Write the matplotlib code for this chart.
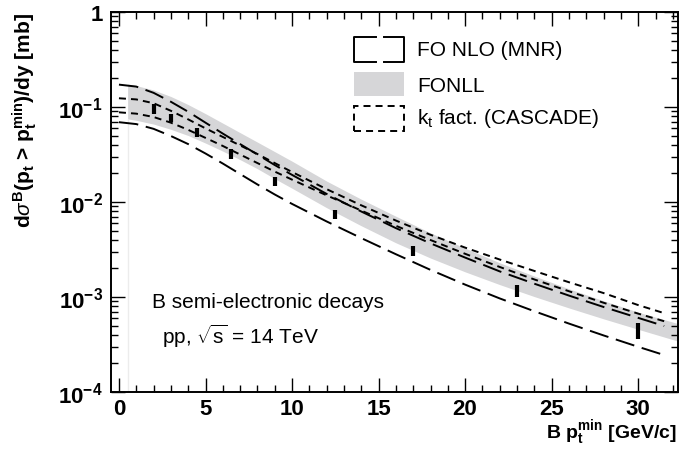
import numpy as np
import matplotlib.pyplot as plt
from matplotlib.lines import Line2D
from matplotlib.patches import Rectangle
from matplotlib.ticker import MultipleLocator, LogLocator, NullFormatter

plt.rcParams['font.family'] = ['Liberation Sans', 'DejaVu Sans']
plt.rcParams['mathtext.fontset'] = 'custom'
plt.rcParams['mathtext.rm'] = 'Liberation Sans'
plt.rcParams['mathtext.bf'] = 'Liberation Sans:bold'
plt.rcParams['mathtext.it'] = 'Liberation Sans:italic'

# pt_min grid for the theory curves [GeV/c]
pt = [0, 1, 2, 3, 4, 5, 6, 7, 8, 9, 10, 12, 14, 16, 18, 20, 22, 24, 26, 28, 30, 31.5]

# FO NLO (MNR) upper / lower bounds [mb]
fo_hi = [0.172, 0.164, 0.141, 0.1135, 0.0891, 0.0684, 0.0525, 0.0407, 0.0316, 0.0245,
         0.0193, 0.01216, 0.00794, 0.00531, 0.00367, 0.0026, 0.00186, 0.00138,
         0.001035, 0.000785, 0.000603, 0.000495]
fo_lo = [0.0692, 0.0661, 0.0589, 0.0495, 0.0407, 0.0324, 0.0254, 0.0197, 0.0153, 0.0120,
         0.00955, 0.00624, 0.00417, 0.00282, 0.00193, 0.00135, 0.000966, 0.000708,
         0.000525, 0.000394, 0.000299, 0.000245]

# kt factorisation (CASCADE) upper / lower
kt_hi = [0.1236, 0.1202, 0.1096, 0.0912, 0.0741, 0.0596, 0.0484, 0.0394, 0.0320, 0.0257,
         0.0207, 0.01365, 0.00923, 0.00638, 0.00452, 0.00331, 0.00248, 0.00188,
         0.00143, 0.0011, 0.000822, 0.000676]
kt_lo = [0.0879, 0.0851, 0.0785, 0.0684, 0.0575, 0.0473, 0.0389, 0.0316, 0.0257, 0.0209,
         0.0172, 0.01175, 0.00813, 0.00562, 0.00398, 0.00285, 0.00207, 0.00153,
         0.00115, 0.00087, 0.000668, 0.000556]

# FONLL band
band_x = [0.5, 1, 2, 3, 4, 5, 6, 7, 8, 9, 10, 12, 14, 16, 18, 20, 22, 24, 26, 28, 30, 32.3]
band_hi = [0.174, 0.168, 0.151, 0.129, 0.106, 0.0851, 0.0676, 0.0537, 0.0427, 0.0339,
           0.0269, 0.0166, 0.0107, 0.00708, 0.00473, 0.00327, 0.00229, 0.00166,
           0.00122, 0.000912, 0.000692, 0.000525]
band_lo = [0.075, 0.0724, 0.0661, 0.0582, 0.0501, 0.0417, 0.0343, 0.0279, 0.0224, 0.0176,
           0.01396, 0.00871, 0.00562, 0.00372, 0.00257, 0.00184, 0.00135, 0.00101,
           0.000767, 0.000589, 0.000457, 0.000343]

# expected measurement points (vertical error bars)
meas_x = [2, 3, 4.5, 6.5, 9, 12.5, 17, 23, 30]
meas_lo = [0.084, 0.069, 0.048, 0.0284, 0.0146, 0.0066, 0.00268, 0.00099, 0.00036]
meas_hi = [0.107, 0.084, 0.0597, 0.0361, 0.0182, 0.0083, 0.00347, 0.00134, 0.00053]

xticks = [0, 5, 10, 15, 20, 25, 30]
yticks = [1e-4, 1e-3, 1e-2, 1e-1, 1]
ytick_labels = [r'$\mathbf{10^{-4}}$', r'$\mathbf{10^{-3}}$', r'$\mathbf{10^{-2}}$',
                r'$\mathbf{10^{-1}}$', '1']

W, H = 698, 452


def fx(px):
    return px / W


def fy(py):
    return 1 - py / H


fig = plt.figure(figsize=(W / 100, H / 100), dpi=100)
ax = fig.add_axes([fx(111), fy(393), fx(678) - fx(111), fy(13) - fy(393)])

ax.fill_between(band_x, band_lo, band_hi, color='#d6d6d8', lw=0)
ax.vlines(band_x[0], 1e-4, band_lo[0], color='#ececec', lw=1)

long_dash = (0, (10, 4))
short_dash = (0, (3.6, 2.6))
ax.plot(pt, fo_hi, color='black', lw=1.4, ls=long_dash)
ax.plot(pt, fo_lo, color='black', lw=1.4, ls=long_dash)
ax.plot(pt, kt_hi, color='black', lw=1.4, ls=short_dash)
ax.plot(pt, kt_lo, color='black', lw=1.4, ls=short_dash)

ax.vlines(meas_x, meas_lo, meas_hi, color='black', lw=3)

ax.set_yscale('log')
ax.set_ylim(1e-4, 1)
ax.set_xlim(-0.46, 32.3)

ax.xaxis.set_major_locator(MultipleLocator(5))
ax.xaxis.set_minor_locator(MultipleLocator(1))
ax.yaxis.set_minor_locator(LogLocator(base=10, subs=np.arange(2, 10)))
ax.yaxis.set_minor_formatter(NullFormatter())
ax.set_xticks(xticks)
ax.set_xticklabels([str(t) for t in xticks], fontsize=16, fontweight='bold')
ax.set_yticks(yticks)
ax.set_yticklabels(ytick_labels, fontsize=16, fontweight='bold')

ax.tick_params(which='both', direction='in', top=True, right=True, width=1)
ax.tick_params(which='major', length=10)
ax.tick_params(which='minor', length=5)
ax.tick_params(axis='x', pad=4)
ax.tick_params(axis='y', pad=6)
for s in ax.spines.values():
    s.set_linewidth(1.4)

# axis titles
fig.text(fx(25), fy(13),
         r'd$\sigma^{\mathbf{B}}$(p$_{\mathbf{t}}$ > p$_{\mathbf{t}}^{\mathbf{min}}$)/dy [mb]',
         rotation=90, ha='center', va='top', fontsize=15, fontweight='bold')
fig.text(fx(677), fy(438), r'B p$_{\mathbf{t}}^{\mathbf{min}}$ [GeV/c]',
         ha='right', va='baseline', fontsize=14, fontweight='bold')

# legend
x0, x1 = 354, 404
lw_leg = 1.4
for (a, b) in [(x0 + 22, x0), (x1 - 20, x1)]:
    fig.add_artist(Line2D([fx(a), fx(b), fx(b), fx(a)], [fy(38), fy(38), fy(63), fy(63)],
                          color='black', lw=lw_leg, transform=fig.transFigure))
fig.add_artist(Rectangle((fx(x0), fy(97)), fx(x1) - fx(x0), fy(73) - fy(97),
                         transform=fig.transFigure, color='#d6d6d8', lw=0))
fig.add_artist(Rectangle((fx(x0), fy(132)), fx(x1) - fx(x0), fy(107) - fy(132),
                         transform=fig.transFigure, fill=False, lw=lw_leg,
                         ls=(0, (3.6, 2.6)), edgecolor='black'))
fig.text(fx(417), fy(50), 'FO NLO (MNR)', fontsize=15, va='center')
fig.text(fx(417), fy(86), 'FONLL', fontsize=15, va='center')
fig.text(fx(417), fy(118), r'k$_{\mathrm{t}}$ fact. (CASCADE)', fontsize=15, va='center')

# annotation
fig.text(fx(152), fy(302), 'B semi-electronic decays', fontsize=15, va='center')
fig.text(fx(162), fy(336), r'pp, $\sqrt{\mathrm{s}}$ = 14 TeV', fontsize=15, va='center')

fig.savefig('out.png', dpi=100)
